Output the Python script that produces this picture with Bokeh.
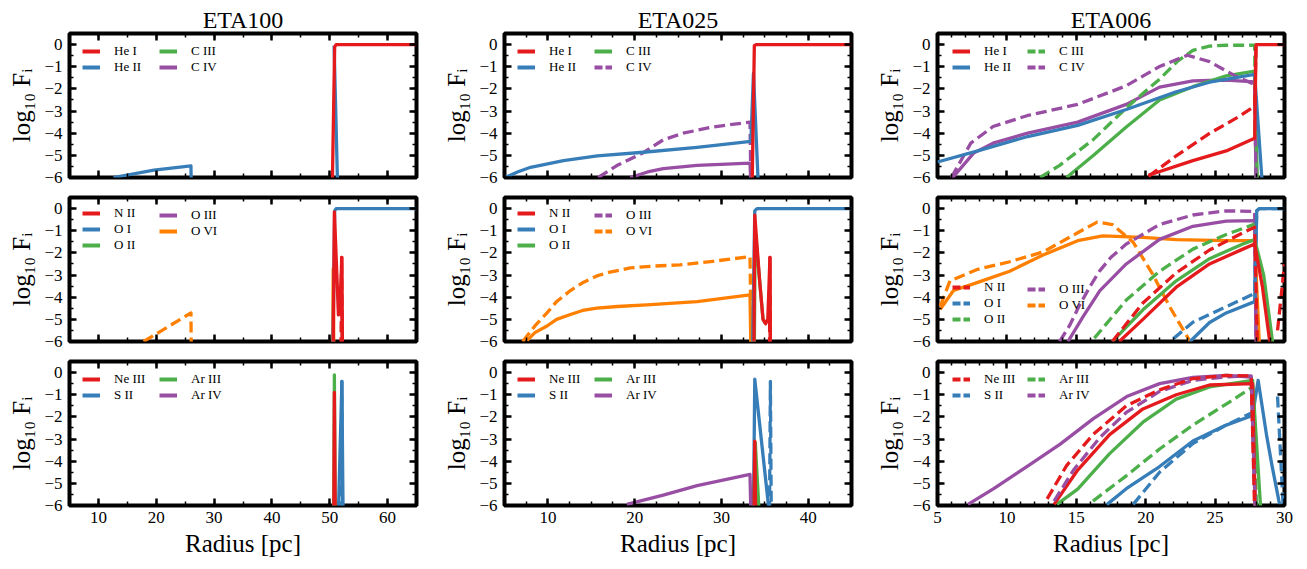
import numpy as np
from bokeh.plotting import figure
from bokeh.layouts import column, row
from bokeh.models import FixedTicker, LinearAxis, Legend, LegendItem, CustomJSTickFormatter
from bokeh.embed import file_html
from bokeh.resources import INLINE

nan = float("nan")

# ---------------- colours / fonts ----------------
RED, BLUE, GREEN, PURPLE, ORANGE = "#e41a1c", "#377eb8", "#4daf4a", "#984ea3", "#ff7f00"
FONT = "Liberation Serif"

# ---------------- tick labels / ranges ----------------
titles = ["ETA100", "ETA025", "ETA006"]
x_ranges = [(5, 65), (5, 45), (5, 30)]
x_major = [[10, 20, 30, 40, 50, 60], [10, 20, 30, 40], [5, 10, 15, 20, 25, 30]]
x_minor = [list(range(5, 66, 5)), [5 + 2.5 * i for i in range(17)], list(range(5, 31))]
y_major = [-6, -5, -4, -3, -2, -1, 0]
y_minor = [-6 + 0.5 * i for i in range(14)]

# ---------------- data: radius [pc] and log10 F_i ----------------
# ETA100 - He / C
e100_HeI_r = [50.45, 50.85, 51.1, 65.0];            e100_HeI_f = [-6.3, -0.1, 0.0, 0.0]
e100_HeII_r = [12.6, 19.6, 26.0, 26.05, nan, 50.75, 51.35]
e100_HeII_f = [-6.0, -5.67, -5.48, -6.3, nan, -0.05, -6.3]
# ETA100 - N / O
e100_OVId_r = [17.8, 19.6, 26.0, 26.05];            e100_OVId_f = [-6.0, -5.72, -4.71, -6.3]
e100_OVI_r = [50.5, 50.6, 50.7];                     e100_OVI_f = [-6.3, -2.7, -6.3]
e100_OI_r = [50.55, 50.85, 51.1, 65.0];              e100_OI_f = [-6.3, -0.1, 0.0, 0.0]
e100_NII_r = [50.6, 50.8, 51.5, 51.9, 52.1, 52.2];   e100_NII_f = [-6.3, -0.15, -4.8, -3.5, -2.2, -6.3]
e100_NIId_r = [51.95, 52.05, 52.15];                 e100_NIId_f = [-6.3, -2.2, -6.3]
# ETA100 - Ne / S / Ar
e100_ArIII_r = [50.7, 50.8, 50.95];                  e100_ArIII_f = [-6.3, -0.1, -6.3]
e100_NeIII_r = [50.7, 50.8, 50.95];                  e100_NeIII_f = [-6.3, -0.9, -6.3]
e100_SII_r = [51.5, 52.1, 52.3];                     e100_SII_f = [-6.3, -0.4, -6.3]
e100_SIId_r = [52.0, 52.1, 52.2];                    e100_SIId_f = [-6.3, -0.4, -6.3]

# ETA025 - He / C
e025_HeI_r = [33.55, 33.8, 34.0, 45.0];              e025_HeI_f = [-6.3, -0.05, 0.0, 0.0]
e025_HeII_r = [5.1, 6.5, 8.0, 11.8, 15.7, 21.0, 27.2, 33.4, 33.7, 34.25]
e025_HeII_f = [-6.0, -5.75, -5.54, -5.24, -5.02, -4.86, -4.64, -4.37, -1.3, -6.3]
e025_CIVd_r = [15.8, 18.0, 21.0, 23.3, 25.6, 29.0, 33.3, 33.4]
e025_CIVd_f = [-6.0, -5.45, -4.88, -4.3, -4.0, -3.72, -3.5, -6.3]
e025_CIV_r = [19.5, 21.5, 23.3, 27.2, 33.3, 33.4];   e025_CIV_f = [-6.0, -5.75, -5.6, -5.45, -5.35, -6.3]
# ETA025 - N / O
e025_OVId_r = [7.1, 8.5, 9.9, 11.0, 12.6, 14.0, 15.65, 17.0, 19.5, 22.0, 25.2, 29.0, 33.3, 33.45]
e025_OVId_f = [-6.0, -5.3, -4.71, -4.2, -3.7, -3.35, -3.04, -2.88, -2.68, -2.6, -2.54, -2.38, -2.17, -6.3]
e025_OVI_r = [7.6, 8.5, 9.9, 11.0, 12.6, 14.0, 15.65, 18.0, 21.4, 27.2, 33.3, 33.4]
e025_OVI_f = [-5.96, -5.6, -5.3, -5.0, -4.78, -4.6, -4.49, -4.42, -4.35, -4.2, -3.9, -6.3]
e025_OI_r = [33.6, 33.85, 34.1, 45.0];               e025_OI_f = [-6.3, -0.1, 0.0, 0.0]
e025_OII_r = [33.8, 33.9, 34.8, 35.1];               e025_OII_f = [-6.3, -1.0, -5.0, -5.2]
e025_NII_r = [33.75, 33.85, 34.4, 34.8, 35.1, 35.35, 35.6, 35.65]
e025_NII_f = [-6.3, -0.3, -3.2, -5.0, -5.2, -5.0, -2.2, -6.3]
e025_NIId_r = [35.55, 35.6, 35.65];                  e025_NIId_f = [-6.3, -2.2, -6.3]
# ETA025 - Ne / S / Ar
e025_ArIV_r = [19.1, 23.3, 27.2, 33.3, 33.4];        e025_ArIV_f = [-5.95, -5.53, -5.1, -4.6, -6.3]
e025_ArIII_r = [33.9, 34.35];                        e025_ArIII_f = [-3.1, -6.3]
e025_SII_r = [33.7, 33.85, 35.4, 35.5];              e025_SII_f = [-6.3, -0.3, -5.9, -6.3]
e025_SIId_r = [35.55, 35.65, 35.75];                 e025_SIId_f = [-6.3, -0.4, -6.3]
e025_NeIII_r = [33.75, 33.85, 33.95];                e025_NeIII_f = [-6.3, -3.1, -6.3]

# ETA006 - He / C
e006_HeII_r = [5.0, 7.9, 11.5, 15.1, 18.6, 22.2, 24.6, 27.85, 28.4]
e006_HeII_f = [-5.3, -4.8, -4.15, -3.65, -2.93, -2.13, -1.7, -1.35, -6.3]
e006_CIII_r = [14.3, 16.2, 18.6, 21.0, 23.4, 25.8, 27.85, 28.05]
e006_CIII_f = [-6.0, -5.02, -3.72, -2.5, -1.9, -1.41, -1.2, -6.3]
e006_CIIId_r = [12.4, 13.8, 16.2, 18.6, 21.0, 22.3, 23.4, 24.6, 25.8, 27.85, 27.95]
e006_CIIId_f = [-6.0, -5.45, -4.3, -2.86, -1.56, -0.75, -0.26, -0.07, -0.03, -0.03, -6.3]
e006_CIV_r = [6.1, 7.6, 9.0, 11.5, 15.1, 18.6, 21.0, 23.4, 25.8, 27.85, 27.95]
e006_CIV_f = [-6.0, -4.9, -4.45, -4.0, -3.5, -2.7, -1.92, -1.64, -1.6, -1.68, -6.3]
e006_CIVd_r = [6.0, 7.4, 9.0, 11.5, 15.1, 18.6, 21.0, 23.0, 24.6, 26.5, 27.85, 27.95]
e006_CIVd_f = [-6.0, -4.45, -3.7, -3.2, -2.7, -1.86, -0.99, -0.48, -0.77, -1.43, -1.8, -6.3]
e006_HeId_r = [20.2, 22.2, 24.6, 26.8, 27.85, 27.95]
e006_HeId_f = [-5.95, -5.02, -4.01, -3.22, -2.78, 0.0]
e006_HeI_r = [20.2, 23.4, 25.8, 27.85, 27.95, 30.0]
e006_HeI_f = [-5.9, -5.24, -4.8, -4.23, 0.0, 0.0]
# ETA006 - N / O
e006_OVId_r = [5.2, 5.9, 7.9, 10.2, 12.6, 15.1, 16.5, 17.6, 19.1, 20.5, 21.7, 23.2]
e006_OVId_f = [-4.4, -3.26, -2.74, -2.4, -1.96, -1.09, -0.61, -0.72, -1.52, -2.96, -4.4, -6.0]
e006_OVI_r = [5.2, 6.15, 7.9, 10.2, 12.6, 15.1, 16.9, 19.8, 22.2, 25.8, 27.85, 28.2]
e006_OVI_f = [-4.55, -3.7, -3.33, -2.83, -2.1, -1.45, -1.23, -1.3, -1.4, -1.45, -1.45, -6.3]
e006_OIIId_r = [13.8, 14.5, 15.2, 16.0, 16.7, 17.5, 18.6, 21.0, 23.4, 25.8, 27.85, 27.95]
e006_OIIId_f = [-6.0, -5.3, -4.4, -3.5, -2.8, -2.2, -1.6, -0.72, -0.29, -0.1, -0.13, -6.3]
e006_OIII_r = [14.4, 15.5, 16.7, 18.6, 21.0, 23.4, 25.8, 27.85, 27.95]
e006_OIII_f = [-6.0, -4.87, -3.7, -2.5, -1.39, -0.8, -0.57, -0.54, -6.3]
e006_OIId_r = [16.3, 18.6, 21.0, 23.4, 25.8, 27.85]
e006_OIId_f = [-5.85, -4.13, -2.83, -1.83, -1.17, -0.7]
e006_OII_r = [17.6, 19.8, 22.2, 24.6, 27.0, 27.85, 28.5, 29.2]
e006_OII_f = [-6.0, -4.57, -3.26, -2.26, -1.6, -1.4, -3.0, -6.3]
e006_OId_r = [22.0, 23.4, 25.8, 27.85, 28.0, 28.2, 30.0]
e006_OId_f = [-5.87, -5.13, -4.43, -3.83, -0.1, 0.0, 0.0]
e006_OI_r = [23.2, 24.6, 25.8, 27.85, 28.0, 28.2, 30.0]
e006_OI_f = [-6.0, -5.14, -4.71, -4.2, -0.1, 0.0, 0.0]
e006_NIId_r = [17.6, 19.8, 22.2, 24.6, 27.0, 27.85, 28.05, nan, 29.5, 30.0]
e006_NIId_f = [-6.0, -4.26, -2.9, -1.87, -1.09, -0.84, -6.3, nan, -5.5, -2.5]
e006_NII_r = [18.1, 19.8, 22.2, 24.6, 27.0, 27.85, 28.4, 29.0]
e006_NII_f = [-6.0, -5.0, -3.55, -2.5, -1.83, -1.6, -3.5, -6.3]
# ETA006 - Ne / S / Ar
e006_SIId_r = [19.1, 21.0, 23.4, 25.8, 27.7, 27.9, nan, 29.5, 29.9]
e006_SIId_f = [-5.95, -4.5, -3.2, -2.37, -1.8, -6.3, nan, -1.08, -6.0]
e006_SII_r = [17.2, 18.6, 21.0, 23.4, 25.8, 27.7, 28.1, 28.7, 29.1, 29.6, 29.8]
e006_SII_f = [-5.96, -5.24, -4.24, -3.09, -2.37, -1.94, -0.35, -2.8, -4.2, -5.8, -6.3]
e006_ArIIId_r = [16.2, 18.6, 21.0, 23.4, 25.8, 27.7, 28.0]
e006_ArIIId_f = [-5.8, -4.66, -3.45, -2.37, -1.42, -0.65, -6.3]
e006_ArIII_r = [13.6, 15.1, 17.4, 19.8, 22.2, 24.6, 27.7, 28.3]
e006_ArIII_f = [-5.95, -5.26, -3.66, -2.24, -1.2, -0.65, -0.35, -6.3]
e006_ArIV_r = [7.2, 9.05, 11.44, 13.84, 16.23, 18.63, 21.0, 23.4, 25.8, 27.6, 27.9]
e006_ArIV_f = [-5.95, -5.24, -4.24, -3.23, -2.08, -1.08, -0.5, -0.22, -0.13, -0.2, -6.3]
e006_ArIVd_r = [13.4, 14.8, 16.7, 18.6, 21.0, 23.4, 25.8, 27.6, 27.9]
e006_ArIVd_f = [-5.8, -4.4, -2.93, -1.8, -0.85, -0.35, -0.2, -0.15, -6.3]
e006_NeIIId_r = [12.9, 14.3, 16.2, 18.6, 21.0, 23.4, 25.8, 27.6, 27.85]
e006_NeIIId_f = [-5.7, -4.2, -2.8, -1.5, -0.78, -0.27, -0.13, -0.15, -6.3]
e006_NeIII_r = [13.4, 15.1, 17.4, 19.8, 22.2, 24.6, 27.7, 27.9]
e006_NeIII_f = [-5.95, -4.4, -2.8, -1.64, -1.0, -0.56, -0.5, -6.3]

# legend labels per row (two legend columns)
leg_labels = [(["He I", "He II"], ["C III", "C IV"]),
              (["N II", "O I", "O II"], ["O III", "O VI"]),
              (["Ne III", "S II"], ["Ar III", "Ar IV"])]
leg_colors = [([RED, BLUE], [GREEN, PURPLE]),
              ([RED, BLUE, GREEN], [PURPLE, ORANGE]),
              ([RED, BLUE], [GREEN, PURPLE])]

S, D = False, True
# panels[row][col] = list of (r, f, colour, dashed) in drawing order
panels = [
    [
        [(e100_HeII_r, e100_HeII_f, BLUE, S), (e100_HeI_r, e100_HeI_f, RED, S)],
        [(e025_CIV_r, e025_CIV_f, PURPLE, S), (e025_CIVd_r, e025_CIVd_f, PURPLE, D),
         (e025_HeII_r, e025_HeII_f, BLUE, S), (e025_HeI_r, e025_HeI_f, RED, S)],
        [(e006_CIV_r, e006_CIV_f, PURPLE, S), (e006_CIII_r, e006_CIII_f, GREEN, S),
         (e006_CIIId_r, e006_CIIId_f, GREEN, D), (e006_CIVd_r, e006_CIVd_f, PURPLE, D),
         (e006_HeII_r, e006_HeII_f, BLUE, S), (e006_HeId_r, e006_HeId_f, RED, D),
         (e006_HeI_r, e006_HeI_f, RED, S)],
    ],
    [
        [(e100_OVId_r, e100_OVId_f, ORANGE, D), (e100_OVI_r, e100_OVI_f, ORANGE, S),
         (e100_OI_r, e100_OI_f, BLUE, S), (e100_NII_r, e100_NII_f, RED, S),
         (e100_NIId_r, e100_NIId_f, RED, D)],
        [(e025_OVI_r, e025_OVI_f, ORANGE, S), (e025_OVId_r, e025_OVId_f, ORANGE, D),
         (e025_OI_r, e025_OI_f, BLUE, S), (e025_OII_r, e025_OII_f, GREEN, S),
         (e025_NII_r, e025_NII_f, RED, S), (e025_NIId_r, e025_NIId_f, RED, D)],
        [(e006_OVI_r, e006_OVI_f, ORANGE, S), (e006_OVId_r, e006_OVId_f, ORANGE, D),
         (e006_OIII_r, e006_OIII_f, PURPLE, S), (e006_OIIId_r, e006_OIIId_f, PURPLE, D),
         (e006_OI_r, e006_OI_f, BLUE, S), (e006_OId_r, e006_OId_f, BLUE, D),
         (e006_OII_r, e006_OII_f, GREEN, S), (e006_OIId_r, e006_OIId_f, GREEN, D),
         (e006_NII_r, e006_NII_f, RED, S), (e006_NIId_r, e006_NIId_f, RED, D)],
    ],
    [
        [(e100_ArIII_r, e100_ArIII_f, GREEN, S), (e100_NeIII_r, e100_NeIII_f, RED, S),
         (e100_SII_r, e100_SII_f, BLUE, S), (e100_SIId_r, e100_SIId_f, BLUE, D)],
        [(e025_ArIV_r, e025_ArIV_f, PURPLE, S), (e025_ArIII_r, e025_ArIII_f, GREEN, S),
         (e025_SII_r, e025_SII_f, BLUE, S), (e025_SIId_r, e025_SIId_f, BLUE, D),
         (e025_NeIII_r, e025_NeIII_f, RED, S)],
        [(e006_ArIV_r, e006_ArIV_f, PURPLE, S), (e006_SII_r, e006_SII_f, BLUE, S),
         (e006_SIId_r, e006_SIId_f, BLUE, D), (e006_ArIII_r, e006_ArIII_f, GREEN, S),
         (e006_ArIIId_r, e006_ArIIId_f, GREEN, D), (e006_NeIII_r, e006_NeIII_f, RED, S),
         (e006_ArIVd_r, e006_ArIVd_f, PURPLE, D), (e006_NeIIId_r, e006_NeIIId_f, RED, D)],
    ],
]

# legend line styles per panel [row][col] -> (first column, second column)
leg_dashed = [
    [([S, S], [S, S]), ([S, S], [S, D]), ([S, S], [D, D])],
    [([S, S, S], [S, S]), ([S, S, S], [D, D]), ([D, D, D], [D, D])],
    [([S, S], [S, S]), ([S, S], [S, S]), ([D, D], [D, D])],
]

# ---------------- layout constants ----------------
FW, FH = 347, 144
COL_BORDERS = [(69, 20), (68, 19), (67, 23)]
ROW_BORDERS = [(33, 10), (10, 10), (10, 64)]
DASH = "11 5"
LEG_DASH = "8 3"
LW = 3.3

minus_fmt = CustomJSTickFormatter(code="return tick < 0 ? '\u2212' + Math.abs(tick) : String(tick);")


def style_axis(ax, ticks, minor, show_labels, fmt=None):
    ax.ticker = FixedTicker(ticks=ticks, minor_ticks=minor)
    ax.axis_line_color = None
    ax.major_tick_in = 7
    ax.major_tick_out = 0
    ax.minor_tick_in = 4
    ax.minor_tick_out = 0
    ax.major_tick_line_width = 2.5
    ax.minor_tick_line_width = 1.5
    ax.major_tick_line_color = "black"
    ax.minor_tick_line_color = "black"
    if show_labels:
        ax.major_label_text_font = FONT
        ax.major_label_text_font_size = "17px"
        ax.major_label_text_color = "black"
        ax.major_label_standoff = 7
        if fmt is not None:
            ax.formatter = fmt
    else:
        ax.formatter = CustomJSTickFormatter(code="return '';")
        ax.major_label_text_font_size = "0px"
        ax.major_label_standoff = 0


def add_legend(p, labels, colors, dashes, vx, vy):
    items = []
    for lab, c, d in zip(labels, colors, dashes):
        r = p.line(x=np.array([nan]), y=np.array([nan]), line_color=c, line_width=4,
                   line_dash=LEG_DASH if d else "solid")
        items.append(LegendItem(label=lab, renderers=[r]))
    leg = Legend(items=items, location=(vx, vy), glyph_width=18, glyph_height=14,
                 label_height=14, label_standoff=14, spacing=0, padding=0, margin=0,
                 border_line_color=None, background_fill_alpha=0,
                 label_text_font=FONT, label_text_font_size="13px",
                 label_text_color="black")
    p.add_layout(leg)


rows_out = []
for ri in range(3):
    figs = []
    for ci in range(3):
        bl, br = COL_BORDERS[ci]
        bt, bb = ROW_BORDERS[ri]
        p = figure(frame_width=FW, frame_height=FH, x_range=x_ranges[ci], y_range=(-6, 0.5),
                   output_backend="svg", toolbar_location=None,
                   min_border_left=bl, min_border_right=br, min_border_top=bt, min_border_bottom=bb,
                   background_fill_color="white", border_fill_color="white")
        p.grid.visible = False
        p.outline_line_color = "black"
        p.outline_line_width = 4

        style_axis(p.xaxis[0], x_major[ci], x_minor[ci], ri == 2)
        style_axis(p.yaxis[0], y_major, y_minor, True, minus_fmt)
        p.yaxis[0].axis_label = "log\u2081\u2080 F\u1d62"
        p.yaxis[0].axis_label_text_font = FONT
        p.yaxis[0].axis_label_text_font_size = "25px"
        p.yaxis[0].axis_label_text_font_style = "normal"
        p.yaxis[0].axis_label_text_color = "black"
        p.yaxis[0].axis_label_standoff = 6
        if ri == 2:
            p.xaxis[0].axis_label = "Radius [pc]"
            p.xaxis[0].axis_label_text_font = FONT
            p.xaxis[0].axis_label_text_font_size = "25px"
            p.xaxis[0].axis_label_text_font_style = "normal"
            p.xaxis[0].axis_label_text_color = "black"
            p.xaxis[0].axis_label_standoff = 4
            p.xaxis[0].major_label_standoff = 6

        top = LinearAxis()
        style_axis(top, x_major[ci], x_minor[ci], False)
        p.add_layout(top, "above")
        right = LinearAxis()
        style_axis(right, y_major, y_minor, False)
        p.add_layout(right, "right")

        if ri == 0:
            p.title.text = titles[ci]
            p.title.align = "center"
            p.title.text_font = FONT
            p.title.text_font_size = "24px"
            p.title.text_font_style = "normal"
            p.title.text_color = "black"
            p.title.standoff = 2

        for (r, f, c, d) in panels[ri][ci]:
            p.line(x=np.array(r, dtype=float), y=np.array(f, dtype=float), line_color=c,
                   line_width=LW, line_dash=DASH if d else "solid", line_join="round")

        labs_a, labs_b = leg_labels[ri]
        cols_a, cols_b = leg_colors[ri]
        dash_a, dash_b = leg_dashed[ri][ci]
        gx = 15 if ci == 2 else 13
        top_off = 88 if (ri == 1 and ci == 2) else 14
        add_legend(p, labs_a, cols_a, dash_a, gx, FH - top_off - 14 * len(labs_a))
        add_legend(p, labs_b, cols_b, dash_b, 90, FH - top_off - 14 * len(labs_b))
        figs.append(p)
    rows_out.append(row(*figs))

layout = column(*rows_out)
open("out.html", "w").write(file_html(layout, INLINE))
